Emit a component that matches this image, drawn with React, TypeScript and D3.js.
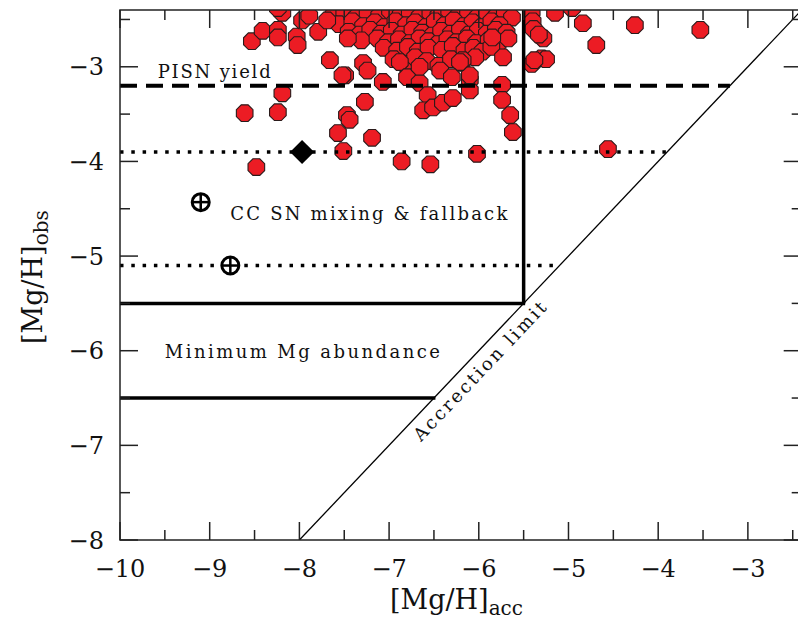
import * as d3 from "d3";

// [Mg/H]acc, [Mg/H]obs pairs
const stars: [number, number][] = [
  // dense top cluster
  [-7.62, -2.45], [-7.5, -2.42], [-7.36, -2.47], [-7.24, -2.43], [-7.11, -2.46], [-6.99, -2.41],
  [-6.87, -2.45], [-6.77, -2.42], [-6.66, -2.47], [-6.54, -2.43], [-6.45, -2.46], [-6.33, -2.41],
  [-6.22, -2.45], [-6.12, -2.42], [-6.01, -2.47], [-5.91, -2.43], [-5.8, -2.46], [-5.71, -2.42],
  [-5.63, -2.48],
  [-7.56, -2.55], [-7.41, -2.52], [-7.29, -2.57], [-7.16, -2.53], [-7.05, -2.58], [-6.93, -2.52],
  [-6.81, -2.56], [-6.71, -2.53], [-6.59, -2.58], [-6.49, -2.52], [-6.38, -2.56], [-6.28, -2.51],
  [-6.17, -2.57], [-6.07, -2.53], [-5.97, -2.58], [-5.86, -2.52], [-5.77, -2.56],
  [-7.45, -2.63], [-7.33, -2.66], [-7.21, -2.61], [-7.09, -2.65], [-6.97, -2.62], [-6.86, -2.66],
  [-6.74, -2.61], [-6.63, -2.64], [-6.52, -2.67], [-6.42, -2.62], [-6.31, -2.65], [-6.21, -2.61],
  [-6.11, -2.66], [-6.01, -2.62], [-5.91, -2.65], [-5.81, -2.61], [-5.69, -2.64],
  [-7.31, -2.72], [-7.13, -2.7], [-7.01, -2.74], [-6.89, -2.71], [-6.77, -2.75], [-6.66, -2.7],
  [-6.56, -2.73], [-6.46, -2.76], [-6.35, -2.71], [-6.25, -2.74], [-6.13, -2.7], [-6.03, -2.75],
  [-5.89, -2.72], [-5.79, -2.76],
  [-7.06, -2.8], [-6.91, -2.83], [-6.79, -2.79], [-6.68, -2.84], [-6.56, -2.8], [-6.41, -2.82],
  [-6.29, -2.78], [-6.16, -2.83], [-6.06, -2.8], [-5.96, -2.84], [-5.86, -2.79],
  [-6.95, -2.92], [-6.83, -2.97], [-6.71, -2.9], [-6.58, -2.94], [-6.45, -2.99], [-6.31, -2.92],
  [-6.19, -2.96], [-6.04, -2.9],
  // edges of the cluster
  [-7.46, -2.7], [-7.29, -2.96], [-7.24, -3.04], [-7.49, -3.09], [-7.07, -3.16], [-7.27, -3.37],
  [-6.88, -2.95], [-6.8, -3.11], [-6.66, -3.17], [-6.57, -3.3], [-6.62, -3.46], [-6.51, -3.43],
  [-6.4, -3.38], [-6.29, -3.33], [-6.1, -3.14], [-6.1, -3.25], [-6.18, -2.93], [-6.1, -3.09],
  [-5.74, -3.19], [-5.74, -3.35], [-5.65, -3.51], [-5.62, -3.69], [-5.73, -2.9], [-5.67, -2.7],
  [-5.85, -2.69], [-6.66, -3.0], [-6.43, -3.04], [-6.21, -2.95], [-6.3, -3.11],
  // left group and scattered
  [-8.53, -2.73], [-8.41, -2.62], [-8.24, -2.61], [-8.24, -2.69], [-8.03, -2.68], [-8.02, -2.77],
  [-7.97, -2.51], [-7.79, -2.63], [-7.69, -2.51], [-8.19, -2.43], [-8.24, -2.38], [-7.89, -2.46],
  [-7.66, -2.93], [-7.52, -3.09], [-8.61, -3.49], [-8.24, -3.48], [-8.19, -3.28], [-8.48, -4.06],
  [-7.47, -3.51], [-7.44, -3.56], [-7.57, -3.7], [-7.51, -3.89], [-7.19, -3.75], [-6.86, -4.0],
  [-6.54, -4.03], [-6.02, -3.92], [-4.56, -3.87],
  // right of the [Mg/H]acc = -5.5 line
  [-5.41, -2.42], [-5.4, -2.52], [-5.39, -2.6], [-5.28, -2.7], [-5.33, -2.66], [-5.41, -2.97],
  [-5.3, -2.91], [-5.25, -2.92], [-5.38, -2.93], [-4.96, -2.38], [-4.84, -2.54], [-4.69, -2.77],
  [-4.26, -2.56], [-3.53, -2.61], [-5.15, -2.43],
];

const diamondStar: [number, number] = [-7.97, -3.9];
const crossStars: [number, number][] = [[-9.1, -4.43], [-8.77, -5.1]];

const pisnYield = -3.2;
const ccLevels = [-3.9, -5.1];
const minMgLevels = [-5.5, -6.5];
const ccLimitAcc = -5.5;

const xTickLabels = [-10, -9, -8, -7, -6, -5, -4, -3];
const yTickLabels = [-8, -7, -6, -5, -4, -3];

const W = 798;
const H = 621;
const FONT = "'DejaVu Serif', serif";

const x = d3.scaleLinear().domain([-10, -2.4]).range([120, 801.7]);
const y = d3.scaleLinear().domain([-8, -2.4]).range([540, 10]);

const minus = (v: number) => (v < 0 ? "\u2212" + Math.abs(v) : String(v));

const octagon = (() => {
  const r = 9;
  const pts = d3.range(8).map((k) => {
    const a = Math.PI / 8 + (k * Math.PI) / 4;
    return [r * Math.cos(a), r * Math.sin(a)] as [number, number];
  });
  return d3.line().curve(d3.curveLinearClosed)(pts) as string;
})();

export default function App() {
  const [x0, x1] = x.range();
  const [y0, y1] = y.range();
  const minorX = d3.range(-10, -2.4, 0.5);
  const minorY = d3.range(-8, -2.4, 0.5);
  const isMajor = (v: number) => Math.abs(v - Math.round(v)) < 1e-6;

  // accretion limit: [Mg/H]obs = [Mg/H]acc
  const accLine = [-8, -2.4];
  const angle =
    (Math.atan2(y(-2.4) - y(-8), x(-2.4) - x(-8)) * 180) / Math.PI;
  const labelAt = -6.11;

  return (
    <svg
      width={W}
      height={H}
      style={{ position: "absolute", left: 0, top: 0, background: "#fff" }}
      fontFamily={FONT}
    >
      <defs>
        <clipPath id="plot">
          <rect x={x0} y={y1} width={x1 - x0} height={y0 - y1} />
        </clipPath>
      </defs>

      <g clipPath="url(#plot)">
        {stars.map(([a, o], i) => (
          <path
            key={i}
            d={octagon}
            transform={`translate(${x(a)},${y(o)})`}
            fill="#ec1c24"
            stroke="#2a1a1a"
            strokeWidth={1.1}
          />
        ))}

        {/* PISN yield */}
        <line
          x1={x(-10)} x2={x(pisnYield)} y1={y(pisnYield)} y2={y(pisnYield)}
          stroke="#000" strokeWidth={4} strokeDasharray="17 9"
        />
        {ccLevels.map((v) => (
          <line
            key={v}
            x1={x(-10)} x2={x(v)} y1={y(v)} y2={y(v)}
            stroke="#000" strokeWidth={3.5} strokeDasharray="3.5 7.8"
          />
        ))}
        <line
          x1={x(ccLimitAcc)} x2={x(ccLimitAcc)} y1={y(-2.4)} y2={y(minMgLevels[0])}
          stroke="#000" strokeWidth={3.5}
        />
        {minMgLevels.map((v) => (
          <line
            key={v}
            x1={x(-10)} x2={x(v) + 1.5} y1={y(v)} y2={y(v)}
            stroke="#000" strokeWidth={3.5}
          />
        ))}
        <line
          x1={x(accLine[0])} y1={y(accLine[0])} x2={x(accLine[1])} y2={y(accLine[1])}
          stroke="#000" strokeWidth={1.3}
        />

        <path
          d={d3.symbol(d3.symbolSquare, 290)() as string}
          transform={`translate(${x(diamondStar[0])},${y(diamondStar[1])}) rotate(45)`}
          fill="#000"
        />
        {crossStars.map(([a, o], i) => (
          <g key={i} transform={`translate(${x(a)},${y(o)})`}>
            <circle r={8.5} fill="#fff" stroke="#000" strokeWidth={3} />
            <line x1={-8.5} x2={8.5} stroke="#000" strokeWidth={2.5} />
            <line y1={-8.5} y2={8.5} stroke="#000" strokeWidth={2.5} />
          </g>
        ))}
      </g>

      {/* frame */}
      <rect
        x={x0} y={y1} width={x1 - x0} height={y0 - y1}
        fill="none" stroke="#222" strokeWidth={1.5}
      />

      {/* ticks on all sides, inward */}
      {minorX.map((v) => {
        const len = isMajor(v) ? 18 : 10;
        return (
          <g key={"x" + v} stroke="#222" strokeWidth={1.5}>
            <line x1={x(v)} x2={x(v)} y1={y0} y2={y0 - len} />
            <line x1={x(v)} x2={x(v)} y1={y1} y2={y1 + len} />
          </g>
        );
      })}
      {minorY.map((v) => {
        const len = isMajor(v) ? 18 : 10;
        return (
          <g key={"y" + v} stroke="#222" strokeWidth={1.5}>
            <line x1={x0} x2={x0 + len} y1={y(v)} y2={y(v)} />
            <line x1={x1} x2={x1 - len} y1={y(v)} y2={y(v)} />
          </g>
        );
      })}

      {xTickLabels.map((v) => (
        <text key={v} x={x(v)} y={577} textAnchor="middle" fontSize={24} fill="#111">
          {minus(v)}
        </text>
      ))}
      {yTickLabels.map((v) => (
        <text key={v} x={104} y={y(v)} dy="0.36em" textAnchor="end" fontSize={24} fill="#111">
          {minus(v)}
        </text>
      ))}

      {/* axis titles */}
      <text x={390} y={609} fontSize={27} fill="#111">
        [Mg/H]<tspan fontSize={20} dy={6}>acc</tspan>
      </text>
      <text transform={`translate(42,344) rotate(-90)`} fontSize={27} fill="#111">
        [Mg/H]<tspan fontSize={20} dy={6}>obs</tspan>
      </text>

      {/* annotations */}
      <text x={x(-9.58)} y={y(-3.12)} fontSize={18} fill="#111" textLength={113} lengthAdjust="spacing">
        PISN yield
      </text>
      <text x={x(-8.77)} y={y(-4.62)} fontSize={18} fill="#111" textLength={277} lengthAdjust="spacing">
        CC SN mixing &amp; fallback
      </text>
      <text x={x(-9.5)} y={y(-6.08)} fontSize={18} fill="#111" textLength={275} lengthAdjust="spacing">
        Minimum Mg abundance
      </text>
      <text
        transform={`translate(${x(labelAt)},${y(labelAt)}) rotate(${angle})`}
        y={21}
        textAnchor="middle"
        fontSize={18}
        fill="#111"
        textLength={184}
        lengthAdjust="spacing"
      >
        Accrection limit
      </text>
    </svg>
  );
}
